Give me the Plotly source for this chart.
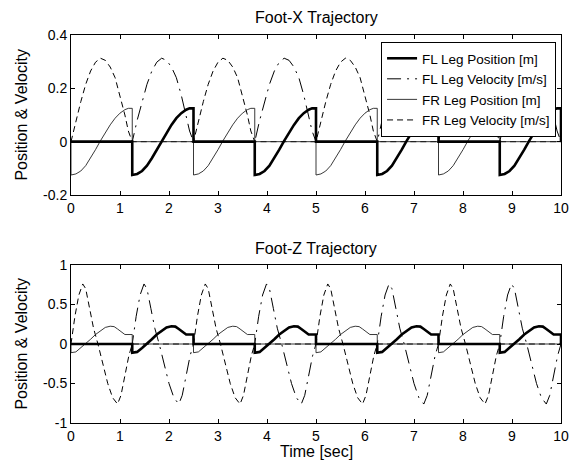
import plotly.graph_objects as go

# ---------------- data ----------------
# swing phase time offsets within one swing (sec); swing lasts 1.25 s, stance 1.25 s
swing_s = [0, 0.1, 0.2, 0.3, 0.4, 0.5, 0.6, 0.7, 0.8, 0.9, 1.0, 1.1, 1.17, 1.25]
# Foot-X position / velocity during swing
pos_x = [-0.125, -0.121, -0.110, -0.090, -0.062, -0.030, 0.003, 0.035, 0.063, 0.088, 0.107, 0.120, 0.125, 0.125]
vel_x = [0.0, 0.080, 0.150, 0.215, 0.265, 0.298, 0.313, 0.305, 0.280, 0.240, 0.175, 0.100, 0.040, 0.0]

swing_sz = [0, 0.1, 0.2, 0.3, 0.4, 0.5, 0.6, 0.7, 0.8, 0.88, 0.95, 1.05, 1.1, 1.25]
pos_z = [-0.11, -0.10, -0.05, 0.0, 0.06, 0.12, 0.17, 0.21, 0.225, 0.22, 0.19, 0.14, 0.12, 0.12]

swing_sv = [0, 0.08, 0.16, 0.24, 0.30, 0.38, 0.46, 0.55, 0.65, 0.75, 0.85, 0.95, 1.02, 1.10, 1.18, 1.25]
vel_z = [0.0, 0.35, 0.62, 0.76, 0.70, 0.45, 0.20, 0.0, -0.25, -0.50, -0.68, -0.76, -0.65, -0.40, -0.15, 0.0]

fr_swing_starts = [0.0, 2.5, 5.0, 7.5]
fl_swing_starts = [1.25, 3.75, 6.25, 8.75]
t_end = 10.0

x_ticks = [0, 1, 2, 3, 4, 5, 6, 7, 8, 9, 10]
top_ticks = [-0.2, 0, 0.2, 0.4]
top_labels = ["-0.2", "0", "0.2", "0.4"]
bot_ticks = [-1, -0.5, 0, 0.5, 1]
bot_labels = ["-1", "-0.5", "0", "0.5", "1"]

names = ["FL Leg Position [m]", "FL Leg Velocity [m/s]",
         "FR Leg Position [m]", "FR Leg Velocity [m/s]"]


def build(starts, s, prof):
    t, y = [0.0], [0.0]
    for t0 in starts:
        t.append(t0); y.append(0.0)
        for si, v in zip(s, prof):
            t.append(t0 + si); y.append(v)
        t.append(t0 + s[-1]); y.append(0.0)
    t.append(t_end); y.append(0.0)
    return t, y


FONT = "Liberation Sans, Arial, sans-serif"
fig = go.Figure()

styles = {
    "FLpos": dict(color="black", width=2.6),
    "FLvel": dict(color="black", width=1, dash="14px,6px,2px,6px"),
    "FRpos": dict(color="#222222", width=0.9),
    "FRvel": dict(color="black", width=1, dash="6px,4px"),
}

panels = [
    (dict(pos=(swing_s, pos_x), vel=(swing_s, vel_x)), "x", "y", True),
    (dict(pos=(swing_sz, pos_z), vel=(swing_sv, vel_z)), "x2", "y2", False),
]

for pdata, xa, ya, show in panels:
    frv = build(fr_swing_starts, *pdata["vel"])
    flv = build(fl_swing_starts, *pdata["vel"])
    frp = build(fr_swing_starts, *pdata["pos"])
    flp = build(fl_swing_starts, *pdata["pos"])
    for (tt, yy), key, name, rank in [
        (frv, "FRvel", names[3], 4),
        (flv, "FLvel", names[1], 2),
        (frp, "FRpos", names[2], 3),
        (flp, "FLpos", names[0], 1),
    ]:
        fig.add_trace(go.Scatter(x=tt, y=yy, mode="lines", line=styles[key],
                                 name=name, legendrank=rank, showlegend=show,
                                 xaxis=xa, yaxis=ya, hoverinfo="skip"))

axis_common = dict(showline=True, linecolor="black", linewidth=1, mirror="ticks",
                   ticks="inside", ticklen=4, tickcolor="black", showgrid=False,
                   zeroline=False, tickfont=dict(family=FONT, size=14, color="black"))

# page is offset by the 8px body margin: figure is 573x460 drawn at (8,8)
top_dom = [(423 - 195) / 388, 1.0]
bot_dom = [0.0, (423 - 265) / 388]

fig.update_layout(
    width=573, height=460,
    margin=dict(l=63, r=14, t=27, b=45),
    paper_bgcolor="white", plot_bgcolor="white",
    font=dict(family=FONT, size=14, color="black"),
    xaxis=dict(domain=[0, 1], range=[0, 10], tickvals=x_ticks, anchor="y", **axis_common),
    yaxis=dict(domain=top_dom, range=[-0.2, 0.4], tickvals=top_ticks, ticktext=top_labels,
               anchor="x", **axis_common),
    xaxis2=dict(domain=[0, 1], range=[0, 10], tickvals=x_ticks, anchor="y2", **axis_common),
    yaxis2=dict(domain=bot_dom, range=[-1, 1], tickvals=bot_ticks, ticktext=bot_labels,
                anchor="x2", **axis_common),
    legend=dict(x=(562 - 71) / 496, y=(423 - 42) / 388, xanchor="right", yanchor="top",
                bgcolor="white", bordercolor="black", borderwidth=1,
                font=dict(family=FONT, size=13.5, color="black"),
                tracegroupgap=0, itemwidth=30),
    showlegend=True,
)

ann = dict(xref="paper", yref="paper", showarrow=False,
           font=dict(family=FONT, size=16, color="black"))
fig.add_annotation(text="Foot-X Trajectory", x=0.5, y=(423 - 18) / 388, yanchor="middle", **ann)
fig.add_annotation(text="Foot-Z Trajectory", x=0.5, y=(423 - 248) / 388, yanchor="middle", **ann)
fig.add_annotation(text="Time [sec]", x=0.5, y=(423 - 451) / 388, yanchor="middle", **ann)
fig.add_annotation(text="Position & Velocity", x=(20 - 71) / 496, y=(423 - 115) / 388,
                   textangle=-90, xanchor="center", yanchor="middle", **ann)
fig.add_annotation(text="Position & Velocity", x=(20 - 71) / 496, y=(423 - 344) / 388,
                   textangle=-90, xanchor="center", yanchor="middle", **ann)

fig.write_html("out.html")
